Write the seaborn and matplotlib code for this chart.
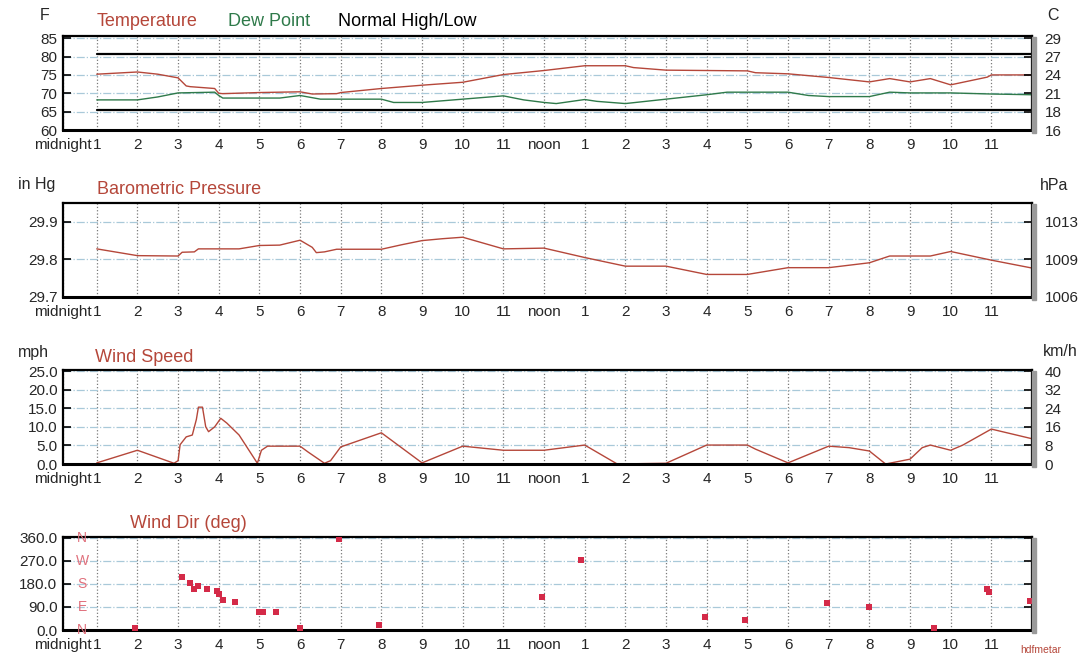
import matplotlib
matplotlib.use("Agg")
import matplotlib.pyplot as plt
import seaborn as sns
import pandas as pd
from matplotlib.patches import Rectangle

# ---------------- data ----------------
hour_labels = ["midnight", "1", "2", "3", "4", "5", "6", "7", "8", "9", "10", "11",
               "noon", "1", "2", "3", "4", "5", "6", "7", "8", "9", "10", "11"]

temp_hours = [1.0, 2.0, 2.5, 3.0, 3.2, 3.3, 3.9, 4.0, 4.1, 5.0, 6.0, 6.3, 6.9, 7.0, 8.0, 9.0,
              10.0, 11.0, 12.0, 13.0, 14.0, 14.2, 15.0, 16.0, 17.0, 17.2, 18.0, 19.0, 20.0,
              20.5, 21.0, 21.5, 22.0, 22.9, 23.0, 24.0]
temp_f = [75.2, 75.8, 75.2, 74.2, 72.0, 71.8, 71.3, 70.0, 69.9, 70.2, 70.4, 69.8, 69.9, 70.2,
          71.3, 72.2, 73.0, 75.1, 76.2, 77.5, 77.5, 77.0, 76.3, 76.2, 76.1, 75.6, 75.3, 74.3,
          73.1, 74.0, 73.1, 74.0, 72.3, 74.4, 75.0, 75.0]

dew_hours = [1.0, 2.0, 2.5, 3.0, 3.9, 4.0, 4.1, 5.5, 6.0, 6.5, 8.0, 8.3, 9.0, 10.0, 11.0, 11.5,
             12.0, 12.3, 13.0, 13.3, 14.0, 15.0, 16.0, 16.5, 18.0, 18.5, 19.0, 20.0, 20.5,
             21.0, 22.0, 23.0, 24.0]
dew_f = [68.2, 68.2, 69.0, 70.1, 70.3, 69.4, 68.7, 68.7, 69.4, 68.4, 68.4, 67.5, 67.5, 68.4,
         69.3, 68.2, 67.5, 67.2, 68.3, 67.8, 67.2, 68.4, 69.6, 70.3, 70.3, 69.4, 69.1, 69.1,
         70.3, 70.1, 70.1, 69.8, 69.6]

normal_hours = [1.0, 24.0]
normal_high = [80.6, 80.6]
normal_low = [65.5, 65.5]

temp_ticks = [60, 65, 70, 75, 80, 85]
temp_left_labels = ["60", "65", "70", "75", "80", "85"]
temp_right_labels = ["16", "18", "21", "24", "27", "29"]

pres_hours = [1.0, 2.0, 3.0, 3.1, 3.4, 3.5, 4.5, 5.0, 5.5, 6.0, 6.3, 6.4, 6.6, 6.9, 8.0, 8.5,
              9.0, 9.5, 10.0, 11.0, 12.0, 13.0, 14.0, 15.0, 16.0, 17.0, 18.0, 19.0, 20.0,
              20.5, 21.5, 22.0, 23.0, 24.0]
pres_inhg = [29.828, 29.810, 29.809, 29.819, 29.820, 29.828, 29.828, 29.837, 29.838, 29.851,
             29.832, 29.818, 29.820, 29.827, 29.827, 29.839, 29.850, 29.855, 29.859, 29.828,
             29.830, 29.805, 29.782, 29.782, 29.760, 29.760, 29.778, 29.778, 29.791, 29.809,
             29.809, 29.821, 29.798, 29.777]
pres_ticks = [29.7, 29.8, 29.9]
pres_left_labels = ["29.7", "29.8", "29.9"]
pres_right_labels = ["1006", "1009", "1013"]

wind_hours = [1.0, 2.0, 2.9, 3.0, 3.05, 3.2, 3.35, 3.45, 3.5, 3.6, 3.68, 3.75, 3.9, 4.05,
              4.2, 4.5, 4.95, 5.05, 5.2, 6.0, 6.2, 6.6, 6.75, 7.0, 8.0, 9.0, 10.0, 11.0, 12.0,
              13.0, 13.8, 15.0, 16.0, 17.0, 17.2, 18.0, 19.0, 19.5, 20.0, 20.4, 21.0, 21.3,
              21.5, 22.0, 22.3, 23.0, 24.0]
wind_mph = [0.3, 3.7, 0.2, 0.9, 5.2, 7.3, 7.8, 12.0, 15.3, 15.3, 10.0, 8.7, 10.0, 12.3,
            11.0, 7.8, 0.2, 3.7, 4.8, 4.8, 3.2, 0.2, 0.9, 4.6, 8.4, 0.3, 4.8, 3.7, 3.7,
            5.1, 0.0, 0.2, 5.1, 5.1, 4.0, 0.3, 4.8, 4.4, 3.5, 0.0, 1.3, 4.4,
            5.1, 3.7, 5.1, 9.4, 6.8]
wind_ticks = [0, 5, 10, 15, 20, 25]
wind_left_labels = ["0.0", "5.0", "10.0", "15.0", "20.0", "25.0"]
wind_right_labels = ["0", "8", "16", "24", "32", "40"]

dir_hours = [1.95, 3.1, 3.3, 3.4, 3.5, 3.7, 3.95, 4.0, 4.1, 4.4, 5.0, 5.1, 5.4, 6.0, 6.95,
             7.95, 11.95, 12.9, 15.95, 16.95, 18.95, 20.0, 21.6, 22.9, 22.95, 23.95]
dir_deg = [9, 208, 183, 161, 172, 161, 152, 141, 118, 108, 71, 71, 71, 9, 354, 18, 130,
           274, 49, 39, 107, 90, 6, 158, 148, 113]
dir_ticks = [0, 90, 180, 270, 360]
dir_left_labels = ["0.0", "90.0", "180.0", "270.0", "360.0"]
compass = ["N", "E", "S", "W", "N"]

# ---------------- style ----------------
sns.set_style("white")
plt.rcParams['font.family'] = ['Liberation Sans', 'DejaVu Sans']

RED = "#b5473a"
GREEN = "#2f7a4a"
MARK = "#d42a48"
W, H = 1089, 656
LEFT, RIGHT = 63, 1032
X0 = 0.17
TICKFS = 11

fig = plt.figure(figsize=(W / 100, H / 100), dpi=100)


def ftext(px, py, s, **kw):
    kw.setdefault("fontsize", 13)
    kw.setdefault("va", "center")
    fig.text(px / W, 1 - py / H, s, **kw)


def make_axes(top, bottom):
    ax = fig.add_axes([LEFT / W, 1 - bottom / H, (RIGHT - LEFT) / W, (bottom - top) / H])
    fig.patches.append(Rectangle((RIGHT / W, 1 - (bottom + 3) / H), 4 / W, (bottom - top + 2) / H,
                                 transform=fig.transFigure, color="#9a9a9a", zorder=0))
    return ax


def style(ax, ylim, ticks, left_labels, right_labels=None):
    ax.set_xlim(X0, 24)
    ax.set_ylim(*ylim)
    ax.set_xticks([X0] + list(range(1, 24)))
    ax.set_xticklabels(hour_labels, fontsize=TICKFS)
    ax.set_yticks(ticks)
    ax.set_yticklabels(left_labels, fontsize=TICKFS)
    ax.tick_params(axis="x", direction="in", length=5, width=1.3, color="black", pad=5.5)
    ax.tick_params(axis="y", direction="in", length=6, width=1.2, color="black", pad=4)
    ax.xaxis.grid(True, color="#7a7a7a", ls=":", lw=0.9)
    ax.yaxis.grid(True, color="#a9c9d9", ls="-.", lw=0.9)
    ax.set_axisbelow(True)
    ax.set_xlabel("")
    ax.set_ylabel("")
    for sp in ax.spines.values():
        sp.set_visible(True)
        sp.set_color("black")
        sp.set_linewidth(1.6)
    ax.spines["bottom"].set_linewidth(2.2)
    tw = ax.twinx()
    tw.set_ylim(*ylim)
    tw.set_yticks(ticks)
    tw.set_yticklabels(right_labels if right_labels else [""] * len(ticks), fontsize=TICKFS)
    tw.tick_params(axis="y", direction="in", length=6, width=1.2, color="black", pad=9)
    for sp in tw.spines.values():
        sp.set_visible(False)
    tw.grid(False)
    return tw


# ---------------- panel 1: temperature ----------------
ax1 = make_axes(36, 130)
sns.lineplot(x=normal_hours, y=normal_high, ax=ax1, color="black", lw=1.6, estimator=None)
sns.lineplot(x=normal_hours, y=normal_low, ax=ax1, color="black", lw=1.6, estimator=None)
sns.lineplot(x=temp_hours, y=temp_f, ax=ax1, color=RED, lw=1.0, estimator=None, sort=False)
sns.lineplot(x=dew_hours, y=dew_f, ax=ax1, color=GREEN, lw=1.0, estimator=None, sort=False)
style(ax1, (60, 85.6), temp_ticks, temp_left_labels, temp_right_labels)
ftext(45, 16, "F", ha="center", fontsize=11.5)
ftext(97, 22, "Temperature", color=RED)
ftext(228, 22, "Dew Point", color=GREEN)
ftext(338, 22, "Normal High/Low", color="black")
ftext(1053, 16, "C", ha="center", fontsize=11.5)

# ---------------- panel 2: pressure ----------------
ax2 = make_axes(203, 297)
sns.lineplot(x=pres_hours, y=pres_inhg, ax=ax2, color=RED, lw=1.0, estimator=None, sort=False)
style(ax2, (29.7, 29.95), pres_ticks, pres_left_labels, pres_right_labels)
ftext(18, 185, "in Hg", fontsize=11.5)
ftext(97, 190, "Barometric Pressure", color=RED)
ftext(1040, 186, "hPa", fontsize=11.5)

# ---------------- panel 3: wind speed ----------------
ax3 = make_axes(370, 464)
sns.lineplot(x=wind_hours, y=wind_mph, ax=ax3, color=RED, lw=1.0, estimator=None, sort=False)
style(ax3, (0, 25.3), wind_ticks, wind_left_labels, wind_right_labels)
ftext(18, 352, "mph", fontsize=11.5)
ftext(95, 357, "Wind Speed", color=RED)
ftext(1043, 352, "km/h", fontsize=11.5)

# ---------------- panel 4: wind direction ----------------
ax4 = make_axes(537, 630)
df_dir = pd.DataFrame({"hour": dir_hours, "deg": dir_deg})
sns.scatterplot(data=df_dir, x="hour", y="deg", ax=ax4, color=MARK, marker="s", s=14,
                edgecolor=MARK, linewidth=0, zorder=5)
style(ax4, (0, 362), dir_ticks, dir_left_labels, None)
for lab, t in zip(compass, dir_ticks):
    ax4.text(0.64, t, lab, color="#e0707c", fontsize=10, ha="center", va="center",
             clip_on=False, zorder=6)
ftext(130, 523, "Wind Dir (deg)", color=RED)
ftext(1020, 650, "hdfmetar", color=RED, fontsize=7.5)

fig.savefig("out.png", dpi=100)
